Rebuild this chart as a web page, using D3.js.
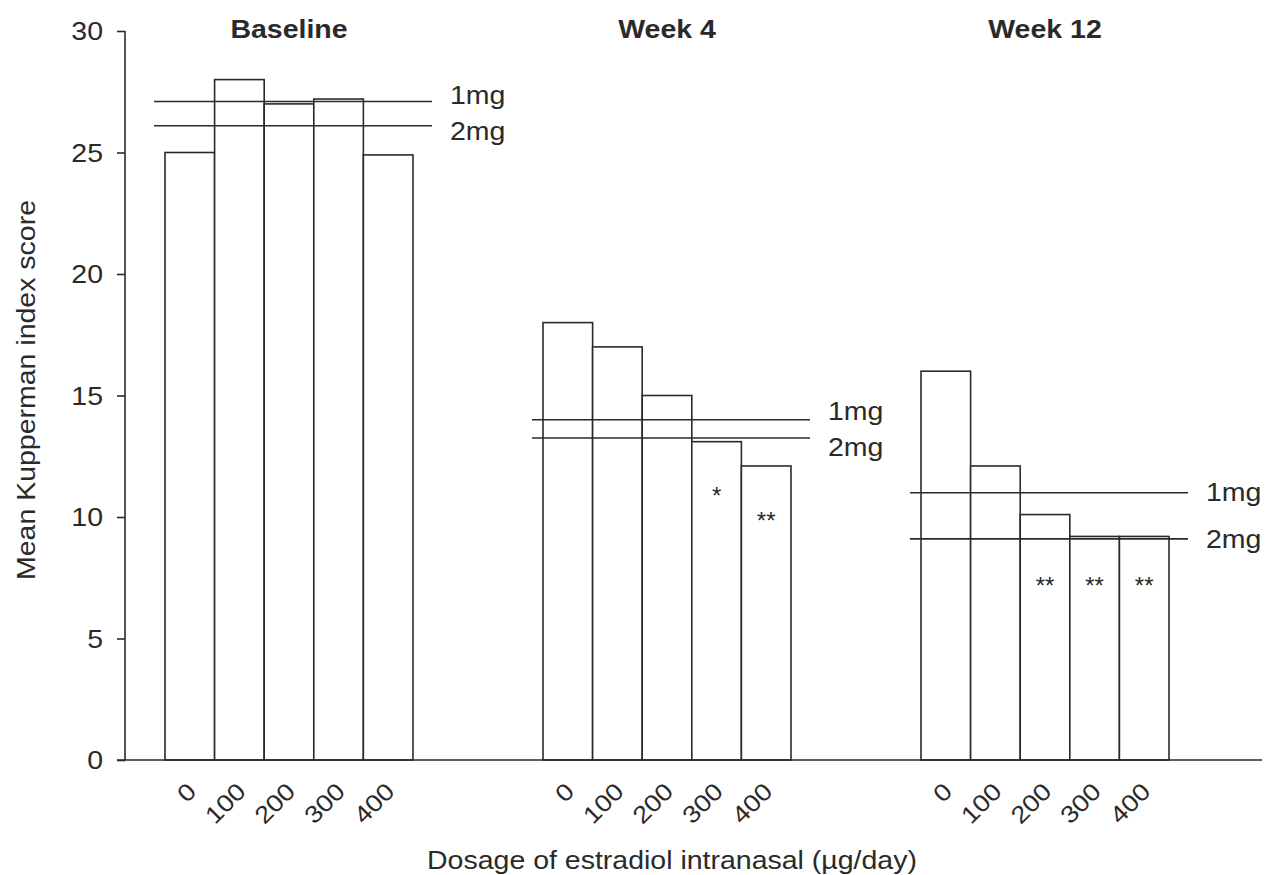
<!DOCTYPE html>
<html>
<head>
<meta charset="utf-8">
<script src="https://cdn.jsdelivr.net/npm/d3@7"></script>
<style>
  body { margin: 0; background: #fff; }
  text { font-family: "Liberation Sans", Arial, sans-serif; fill: #2a2a2a; }
</style>
</head>
<body>
<div id="chart"></div>
<script>
// chart data
var groups = ["Baseline", "Week 4", "Week 12"];
var doses = ["0", "100", "200", "300", "400"];
var baselineScores = [25, 28, 27, 27.2, 24.9];
var week4Scores = [18, 17, 15, 13.1, 12.1];
var week12Scores = [16, 12.1, 10.1, 9.2, 9.2];
var oneMgLevels = [27.1, 14.0, 11.0];   // oral 1mg reference, per group
var twoMgLevels = [26.1, 13.25, 9.1];   // oral 2mg reference, per group
var week4Marks = ["", "", "", "*", "**"];
var week12Marks = ["", "", "**", "**", "**"];
var yTicks = [0, 5, 10, 15, 20, 25, 30];

var scores = [baselineScores, week4Scores, week12Scores];
var marks = [["", "", "", "", ""], week4Marks, week12Marks];

var width = 1266, height = 875;
var ink = "#2a2a2a";
var stretch = "scale(1.14,1)"; // the scanned type runs wide

var svg = d3.select("#chart").append("svg")
  .attr("width", width).attr("height", height);

var y = d3.scaleLinear().domain([0, 30]).range([760, 31]);
var xGroup = d3.scaleBand().domain(groups).range([165, 1169]).paddingInner(0.344);
var xDose = d3.scaleBand().domain(doses).range([0, xGroup.bandwidth()]);

var rows = [];
groups.forEach(function(g, gi) {
  doses.forEach(function(d, di) {
    rows.push({group: g, dose: d, value: scores[gi][di], mark: marks[gi][di]});
  });
});

// bars
svg.append("g").selectAll("rect")
  .data(rows).enter().append("rect")
  .attr("x", function(d) { return xGroup(d.group) + xDose(d.dose); })
  .attr("y", function(d) { return y(d.value); })
  .attr("width", xDose.bandwidth())
  .attr("height", function(d) { return y(0) - y(d.value); })
  .attr("fill", "#fff")
  .attr("stroke", ink)
  .attr("stroke-width", 1.6);

// reference lines for oral doses
var refs = [];
groups.forEach(function(g, gi) {
  var a = y(oneMgLevels[gi]), b = y(twoMgLevels[gi]);
  // keep the two labels apart when the lines run close together
  var gap = Math.max(36, b - a), mid = (a + b) / 2;
  refs.push({group: g, label: "1mg", value: oneMgLevels[gi], ly: Math.min(a, mid - gap / 2)});
  refs.push({group: g, label: "2mg", value: twoMgLevels[gi], ly: Math.max(b, mid + gap / 2)});
});

svg.append("g").selectAll("line")
  .data(refs).enter().append("line")
  .attr("x1", function(d) { return xGroup(d.group) - 11; })
  .attr("x2", function(d) { return xGroup(d.group) + xGroup.bandwidth() + 19; })
  .attr("y1", function(d) { return y(d.value); })
  .attr("y2", function(d) { return y(d.value); })
  .attr("stroke", ink).attr("stroke-width", 1.6);

svg.append("g").selectAll("text")
  .data(refs).enter().append("text")
  .attr("transform", function(d) {
    return "translate(" + (xGroup(d.group) + xGroup.bandwidth() + 37) + "," + d.ly + ") " + stretch;
  })
  .attr("dy", "0.35em")
  .style("font-size", "25px")
  .text(function(d) { return d.label; });

// significance marks
svg.append("g").selectAll("text")
  .data(rows.filter(function(d) { return d.mark; })).enter().append("text")
  .attr("x", function(d) { return xGroup(d.group) + xDose(d.dose) + xDose.bandwidth() / 2; })
  .attr("y", function(d) {
    // week 12 marks share one row; elsewhere they sit under the bar top
    var level = d.group === "Week 12" ? 7.4 : d.value - 2;
    return y(level) + 14;
  })
  .attr("text-anchor", "middle")
  .style("font-size", "24px")
  .text(function(d) { return d.mark; });

// group titles
svg.append("g").selectAll("text")
  .data(groups).enter().append("text")
  .attr("transform", function(d) {
    return "translate(" + (xGroup(d) + xGroup.bandwidth() / 2) + ",38) " + stretch;
  })
  .attr("text-anchor", "middle")
  .style("font-size", "25px")
  .style("font-weight", "bold")
  .text(function(d) { return d; });

// y axis
var yAxis = svg.append("g")
  .attr("transform", "translate(125,0)")
  .call(d3.axisLeft(y).tickValues(yTicks).tickSize(8).tickPadding(0).tickFormat(d3.format("d")));
yAxis.select(".domain").attr("d", "M0," + y(30) + "V" + y(0)).attr("stroke", ink).attr("stroke-width", 1.6);
yAxis.selectAll(".tick line").attr("stroke", ink).attr("stroke-width", 1.6);
yAxis.selectAll(".tick text")
  .attr("x", null).attr("dy", null)
  .attr("transform", "translate(-22,0) " + stretch)
  .attr("dy", "0.35em")
  .style("font-size", "25px")
  .style("fill", ink);

// x axis baseline
svg.append("line")
  .attr("x1", 117).attr("x2", 1262)
  .attr("y1", y(0)).attr("y2", y(0))
  .attr("stroke", ink).attr("stroke-width", 1.6);

// dose labels, rotated
svg.append("g").selectAll("text")
  .data(rows).enter().append("text")
  .attr("transform", function(d) {
    var cx = xGroup(d.group) + xDose(d.dose) + xDose.bandwidth() / 2 - 4;
    return "translate(" + cx + ",781) rotate(-45) " + stretch;
  })
  .attr("text-anchor", "end")
  .attr("dy", "0.7em")
  .style("font-size", "24px")
  .text(function(d) { return d.dose; });

// axis titles
svg.append("text")
  .attr("transform", "translate(35,390) rotate(-90) " + stretch)
  .attr("text-anchor", "middle")
  .style("font-size", "25px")
  .text("Mean Kupperman index score");

svg.append("text")
  .attr("transform", "translate(672,869) " + stretch)
  .attr("text-anchor", "middle")
  .style("font-size", "25px")
  .text("Dosage of estradiol intranasal (µg/day)");
</script>
</body>
</html>
